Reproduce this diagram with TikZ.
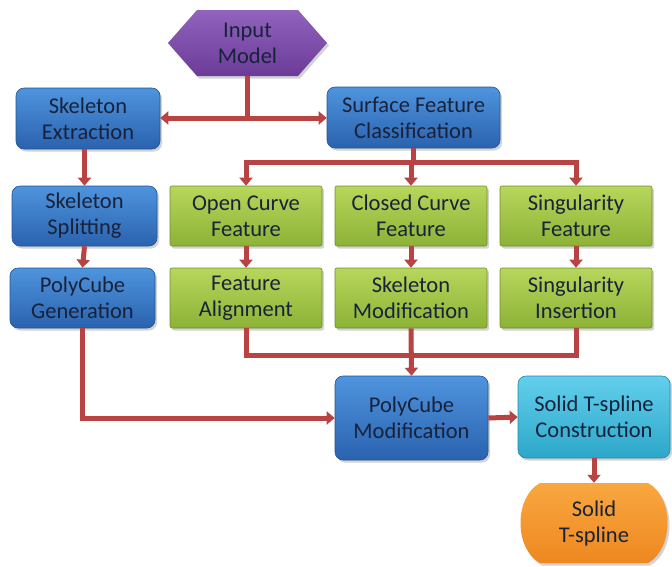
\documentclass[tikz,border=0pt]{standalone}
\usepackage{fontspec}
\setmainfont{Carlito}
\usetikzlibrary{arrows.meta,shadows,calc}
\definecolor{txt}{HTML}{18223A}
\definecolor{linered}{HTML}{B94242}
\definecolor{blueT}{HTML}{4F94DE}
\definecolor{blueB}{HTML}{2A62AE}
\definecolor{blueD}{HTML}{22548F}
\definecolor{greenT}{HTML}{B7D65C}
\definecolor{greenB}{HTML}{8CB236}
\definecolor{greenD}{HTML}{6F8E2A}
\definecolor{cyanT}{HTML}{62CFEC}
\definecolor{cyanB}{HTML}{2DA7CA}
\definecolor{cyanD}{HTML}{2089A8}
\definecolor{orT}{HTML}{F9A740}
\definecolor{orB}{HTML}{EE8820}
\definecolor{purT}{HTML}{9163BD}
\definecolor{purB}{HTML}{6B3B98}
\tikzset{
  box/.style={rounded corners=8pt, align=center, text=txt, inner sep=1pt,
    font=\fontsize{22.5}{26}\selectfont,
    drop shadow={shadow xshift=2pt, shadow yshift=-2.5pt, opacity=0.35}},
  bluebox/.style={box, top color=blueT, bottom color=blueB, draw=blueD, line width=0.6pt},
  greenbox/.style={box, rounded corners=2pt, top color=greenT, bottom color=greenB, draw=greenD, line width=0.6pt,
    minimum width=152pt, minimum height=60pt},
  cyanbox/.style={box, top color=cyanT, bottom color=cyanB, draw=cyanD, line width=0.6pt},
  plaintext/.style={align=center, text=txt, inner sep=1pt, font=\fontsize{22.5}{26}\selectfont},
  conn/.style={draw=linered, line width=5pt},
  arr/.style={conn, -{Triangle[width=13pt,length=8pt]}},
  darr/.style={conn, {Triangle[width=13pt,length=8pt]}-{Triangle[width=13pt,length=8pt]}},
}
\begin{document}
\begin{tikzpicture}[x=1pt,y=-1pt]
\useasboundingbox (0,0) rectangle (672,566);
% Input model hexagon
\shade[top color=purT, bottom color=purB, drop shadow={shadow xshift=2pt, shadow yshift=-2.5pt, opacity=0.35}]
  (168,43) -- (197,10) -- (298,10) -- (327,43) -- (298,76) -- (197,76) -- cycle;
\node (in) [plaintext, minimum width=159pt, minimum height=66pt] at (247.5,43) {Input\\Model};

\node (se)  [bluebox, minimum width=144pt, minimum height=61pt] at (88,118.5) {Skeleton\\Extraction};
\node (sfc) [bluebox, minimum width=173pt, minimum height=61pt] at (413.5,117.5) {Surface Feature\\Classification};

\node (ss) [bluebox, minimum width=145pt, minimum height=60pt] at (84.5,216) {Skeleton\\Splitting};
\node (ocf) [greenbox] at (246,216) {Open Curve\\Feature};
\node (ccf) [greenbox] at (411,216) {Closed Curve\\Feature};
\node (sf)  [greenbox] at (576,216) {Singularity\\Feature};

\node (pg) [bluebox, minimum width=145pt, minimum height=60pt] at (82.5,298) {PolyCube\\Generation};
\node (fa) [greenbox] at (246,298) {Feature\\Alignment};
\node (sm) [greenbox] at (411,298) {Skeleton\\Modification};
\node (si) [greenbox] at (576,298) {Singularity\\Insertion};

\node (pm) [bluebox, minimum width=153pt, minimum height=84pt] at (411.5,418) {PolyCube\\Modification};
\node (stc) [cyanbox, minimum width=152pt, minimum height=82pt] at (594,417) {Solid T-spline\\Construction};

% Solid T-spline terminal shape
\shade[top color=orT, bottom color=orB, drop shadow={shadow xshift=2pt, shadow yshift=-2.5pt, opacity=0.35}]
  (540,483) -- (648,483) .. controls (674,497) and (674,549) .. (648,563)
  -- (540,563) .. controls (514,549) and (514,497) .. (540,483) -- cycle;
\node (st) [plaintext, minimum width=148pt, minimum height=80pt] at (594,523) {Solid\\T-spline};

% connectors
\coordinate (j1) at (247.5,118);
\draw[conn] (in.south) -- (j1);
\draw[darr] (se.east |- j1) -- (sfc.west |- j1);

\coordinate (b1) at (246,162);
\coordinate (b3) at (576,162);
\draw[conn, line cap=rect] (b1) -- (b3);
\draw[conn] (sfc.south) -- (sfc.south |- b1);
\draw[arr] (b1) -- (ocf.north);
\draw[arr] (ccf.north |- b1) -- (ccf.north);
\draw[arr] (b3) -- (sf.north);

\draw[arr] (ss.north |- se.south) -- (ss.north);
\draw[arr] (ss.south) -- (pg.north);
\draw[arr] (ocf) -- (fa);
\draw[arr] (ccf) -- (sm);
\draw[arr] (sf) -- (si);

\coordinate (m1) at (246,355);
\coordinate (m3) at (576,355);
\draw[conn, line join=miter] (fa.south) -- (m1) -- (m3) -- (si.south);
\draw[arr] (sm.south) -- (pm.north);

\draw[arr, line join=miter] (pg.south) |- (pm.west);
\draw[arr] (pm.east) -- (stc.west);
\draw[arr] (stc.south) -- (st.north);
\end{tikzpicture}
\end{document}
